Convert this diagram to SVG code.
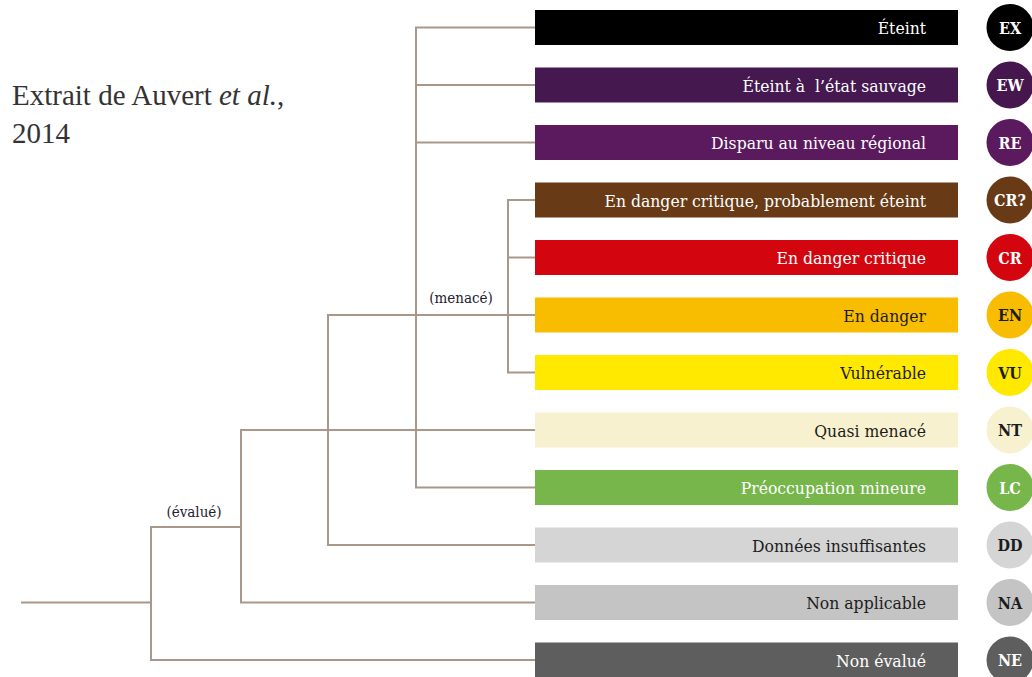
<svg xmlns="http://www.w3.org/2000/svg" width="1032" height="677" viewBox="0 0 1032 677">
<style>
.ln{stroke:#a9978c;stroke-width:2;fill:none;stroke-linecap:square}
.bt{font-family:"DejaVu Serif Condensed","DejaVu Serif","Liberation Serif",serif;font-stretch:semi-condensed;font-size:17.4px;text-anchor:end}
.ct{font-family:"DejaVu Serif Condensed","DejaVu Serif","Liberation Serif",serif;font-stretch:semi-condensed;font-size:16px;font-weight:bold;text-anchor:middle}
.lb{font-family:"DejaVu Serif Condensed","DejaVu Serif","Liberation Serif",serif;font-stretch:semi-condensed;font-size:15px;fill:#22222e;text-anchor:middle}
.w{fill:#ffffff}
.d{fill:#1c1c1c}
</style>
<rect width="1032" height="677" fill="#ffffff"/>
<g id="title">
<text x="12" y="105" font-family="'Liberation Serif',serif" font-size="29" fill="#333333">Extrait de Auvert <tspan font-style="italic">et al.</tspan>,</text>
<text x="12" y="143" font-family="'Liberation Serif',serif" font-size="29" fill="#333333">2014</text>
</g>
<g id="connectors">
<path class="ln" d="M22 602.5H151M151 527V660M151 527H241M151 660H535M241 430V602.5M241 602.5H535M241 430H535M328 315V545M328 545H535M328 315H535M416 27.5V487.5M416 27.5H535M416 85H535M416 142.5H535M416 487.5H535M508 200V372.5M508 200H535M508 257.5H535M508 372.5H535"/>
<text class="lb" x="194" y="517">(évalué)</text>
<text class="lb" x="461" y="303">(menacé)</text>
</g>
<g id="EX"><rect x="535" y="10" width="423" height="35" fill="#000000"/><text class="bt w" x="926" y="34">Éteint</text><circle cx="1010" cy="27.5" r="23.5" fill="#000000"/><text class="ct w" x="1010" y="33.5">EX</text></g>
<g id="EW"><rect x="535" y="67.5" width="423" height="35" fill="#45184f"/><text class="bt w" x="926" y="91.5" xml:space="preserve">Éteint à  l’état sauvage</text><circle cx="1010" cy="85" r="23.5" fill="#46174f"/><text class="ct w" x="1010" y="91">EW</text></g>
<g id="RE"><rect x="535" y="125" width="423" height="35" fill="#5b1a5e"/><text class="bt w" x="926" y="149">Disparu au niveau régional</text><circle cx="1010" cy="142.5" r="23.5" fill="#5b1a5e"/><text class="ct w" x="1010" y="148.5">RE</text></g>
<g id="CRq"><rect x="535" y="182.5" width="423" height="35" fill="#683b16"/><text class="bt w" x="926" y="206.5">En danger critique, probablement éteint</text><circle cx="1010" cy="200" r="23.5" fill="#683b16"/><text class="ct w" x="1010" y="206">CR?</text></g>
<g id="CR"><rect x="535" y="240" width="423" height="35" fill="#d3050e"/><text class="bt w" x="926" y="264">En danger critique</text><circle cx="1010" cy="257.5" r="23.5" fill="#d3050e"/><text class="ct w" x="1010" y="263.5">CR</text></g>
<g id="EN"><rect x="535" y="297.5" width="423" height="35" fill="#f8bc00"/><text class="bt d" x="926" y="321.5">En danger</text><circle cx="1010" cy="315" r="23.5" fill="#f8bc00"/><text class="ct d" x="1010" y="321">EN</text></g>
<g id="VU"><rect x="535" y="355" width="423" height="35" fill="#ffe900"/><text class="bt d" x="926" y="379">Vulnérable</text><circle cx="1010" cy="372.5" r="23.5" fill="#ffe900"/><text class="ct d" x="1010" y="378.5">VU</text></g>
<g id="NT"><rect x="535" y="412.5" width="423" height="35" fill="#f8f1cf"/><text class="bt d" x="926" y="436.5">Quasi menacé</text><circle cx="1010" cy="430" r="23.5" fill="#f8f1cf"/><text class="ct d" x="1010" y="436">NT</text></g>
<g id="LC"><rect x="535" y="470" width="423" height="35" fill="#76b64b"/><text class="bt w" x="926" y="494">Préoccupation mineure</text><circle cx="1010" cy="487.5" r="23.5" fill="#76b64b"/><text class="ct w" x="1010" y="493.5">LC</text></g>
<g id="DD"><rect x="535" y="527.5" width="423" height="35" fill="#d4d5d4"/><text class="bt d" x="926" y="551.5">Données insuffisantes</text><circle cx="1010" cy="545" r="23.5" fill="#d4d5d4"/><text class="ct d" x="1010" y="551">DD</text></g>
<g id="NA"><rect x="535" y="585" width="423" height="35" fill="#c4c4c4"/><text class="bt d" x="926" y="609">Non applicable</text><circle cx="1010" cy="602.5" r="23.5" fill="#c4c4c4"/><text class="ct d" x="1010" y="608.5">NA</text></g>
<g id="NE"><rect x="535" y="642.5" width="423" height="35" fill="#5e5e5e"/><text class="bt w" x="926" y="666.5">Non évalué</text><circle cx="1010" cy="660" r="23.5" fill="#5e5e5e"/><text class="ct w" x="1010" y="666">NE</text></g>
</svg>
